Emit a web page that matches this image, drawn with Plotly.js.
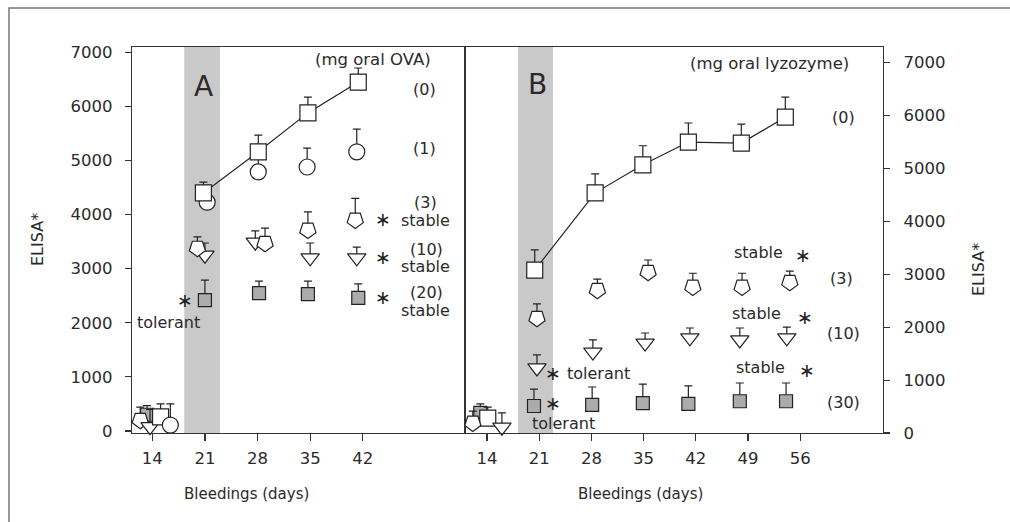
<!DOCTYPE html>
<html>
<head>
<meta charset="utf-8">
<script src="https://cdn.plot.ly/plotly-3.0.1.min.js"></script>
<style>html,body{margin:0;padding:0;background:#fff;}#chart{width:1010px;height:522px;}</style>
</head>
<body>
<div id="chart"></div>
<script>
// ---------- Panel A : mg oral OVA ----------
const tickDaysA = [14, 21, 28, 35, 42];
const ovaDay14X   = [15.1, 16.4, 12.4, 13.7, 13.3];          // (0),(1),(3),(10),(20)
const ovaDay14Y   = [260, 110, 200, 80, 300];
const ovaDay14Err = [240, 390, 240, 320, 170];

const ova0X = [20.8, 28.1, 34.7, 41.4];
const ova0Y = [4400, 5160, 5880, 6450];
const ova0E = [200, 310, 290, 260];

const ova1X = [21.3, 28.1, 34.6, 41.2];
const ova1Y = [4230, 4790, 4880, 5160];
const ova1E = [220, 440, 350, 420];

const ova3X = [20.0, 29.0, 34.7, 41.0];
const ova3Y = [3380, 3470, 3715, 3900];
const ova3E = [210, 280, 335, 400];

const ova10X = [21.0, 27.7, 35.0, 41.2];
const ova10Y = [3250, 3490, 3200, 3200];
const ova10E = [225, 210, 275, 200];

const ova20X = [21.0, 28.2, 34.7, 41.4];
const ova20Y = [2420, 2550, 2530, 2460];
const ova20E = [370, 220, 240, 260];

// ---------- Panel B : mg oral lyzozyme ----------
const tickDaysB = [14, 21, 28, 35, 42, 49, 56];
const lyzDay14X   = [14.1, 12.1, 16.0, 13.1];                 // (0),(3),(10),(30)
const lyzDay14Y   = [280, 190, 110, 380];
const lyzDay14Err = [210, 225, 270, 170];

const lyz0X = [20.4, 28.5, 34.9, 41.0, 48.1, 54.0];
const lyz0Y = [3080, 4540, 5070, 5500, 5480, 5970];
const lyz0E = [380, 360, 360, 360, 360, 380];

const lyz3X = [20.7, 28.8, 35.6, 41.6, 48.2, 54.6];
const lyz3Y = [2170, 2700, 3040, 2760, 2760, 2850];
const lyz3E = [270, 210, 230, 260, 260, 210];

const lyz10X = [20.7, 28.2, 35.2, 41.2, 47.9, 54.2];
const lyz10Y = [1230, 1530, 1700, 1800, 1760, 1800];
const lyz10E = [245, 230, 190, 185, 225, 200];

const lyz30X = [20.3, 28.1, 34.9, 41.0, 47.9, 54.1];
const lyz30Y = [510, 530, 565, 550, 600, 600];
const lyz30E = [320, 340, 360, 340, 345, 345];

const yTicks = [0, 1000, 2000, 3000, 4000, 5000, 6000, 7000];
const feedingBandA = [18.25, 23.0];
const feedingBandB = [18.16, 22.85];

// ---------- styling ----------
const INK = '#222';
const TXT = '#2a2a2a';
const FONT = 'DejaVu Sans, Arial, sans-serif';
const W = 1010, H = 522;
const px = x => x / W;
const py = y => 1 - y / H;

function errUp(arr) {
  return {type: 'data', symmetric: false, array: arr, arrayminus: arr.map(() => 0),
          color: INK, thickness: 1.2, width: 4};
}
function mk(symbol, size, fill, angle) {
  return {symbol: symbol, size: size, color: fill, angle: angle || 0,
          line: {color: INK, width: 1.2}};
}
function trace(x, y, e, symbol, size, fill, axes, mode, angle) {
  return {x: x, y: y, error_y: errUp(e), mode: mode || 'markers', type: 'scatter',
          marker: mk(symbol, size, fill, angle), line: {color: INK, width: 1.2},
          xaxis: axes[0], yaxis: axes[1], hoverinfo: 'x+y', showlegend: false, cliponaxis: false};
}
const A = ['x', 'y'], B = ['x2', 'y2'];
const GRAY = '#ababab';

function pick(arr, i) { return [arr[i]]; }

const traces = [];
// Panel A day-14 cluster
const symA = [['square', 16, '#fff', 0], ['circle', 16, '#fff', 0], ['pentagon', 17, '#fff', 180], ['triangle-down', 16, '#fff', 0], ['square', 13, GRAY, 0]];
[4, 2, 3, 0, 1].forEach(i => {
  const s = symA[i];
  traces.push(trace(pick(ovaDay14X, i), pick(ovaDay14Y, i), pick(ovaDay14Err, i), s[0], s[1], s[2], A, 'markers', s[3]));
});
traces.push(trace(ova20X, ova20Y, ova20E, 'square', 13, GRAY, A));
traces.push(trace(ova10X, ova10Y, ova10E, 'triangle-down', 16, '#fff', A));
traces.push(trace(ova3X, ova3Y, ova3E, 'pentagon', 17, '#fff', A, 'markers', 180));
traces.push(trace(ova1X, ova1Y, ova1E, 'circle', 16, '#fff', A));
traces.push(trace(ova0X, ova0Y, ova0E, 'square', 16, '#fff', A, 'lines+markers'));

// Panel B day-14 cluster
const symB = [['square', 16, '#fff', 0], ['pentagon', 17, '#fff', 180], ['triangle-down', 16, '#fff', 0], ['square', 13, GRAY, 0]];
[3, 0, 1, 2].forEach(i => {
  const s = symB[i];
  traces.push(trace(pick(lyzDay14X, i), pick(lyzDay14Y, i), pick(lyzDay14Err, i), s[0], s[1], s[2], B, 'markers', s[3]));
});
traces.push(trace(lyz30X, lyz30Y, lyz30E, 'square', 13, GRAY, B));
traces.push(trace(lyz10X, lyz10Y, lyz10E, 'triangle-down', 16, '#fff', B));
traces.push(trace(lyz3X, lyz3Y, lyz3E, 'pentagon', 17, '#fff', B, 'markers', 180));
traces.push(trace(lyz0X, lyz0Y, lyz0E, 'square', 16, '#fff', B, 'lines+markers'));

function ann(text, x, y, size, extra) {
  return Object.assign({text: text, x: px(x), y: py(y), xref: 'paper', yref: 'paper',
    xanchor: 'center', yanchor: 'middle', showarrow: false,
    font: {family: FONT, size: size || 16, color: TXT}}, extra || {});
}
function star(x, y) {
  return ann('\u2217', x, y, 19, {font: {family: FONT, size: 19, color: INK}});
}
const annotations = [
  ann('A', 203, 86, 28),
  ann('(mg oral OVA)', 373, 60, 16.5),
  ann('(0)', 424, 89, 16),
  ann('(1)', 424, 149, 16),
  ann('(3)', 425, 203, 16),
  ann('stable', 425, 220, 16),
  ann('(10)', 426, 249, 16),
  ann('stable', 425, 266, 16),
  ann('(20)', 426, 292, 16),
  ann('stable', 425, 310, 16),
  star(383, 219),
  star(383, 257),
  star(383, 297),
  star(185, 300),
  ann('tolerant', 168, 322, 16),

  ann('B', 537, 84, 28),
  ann('(mg oral lyzozyme)', 769, 63, 16.5),
  ann('(0)', 843, 117, 16),
  ann('stable', 758, 252, 16),
  star(803, 255),
  ann('(3)', 841, 278, 16),
  ann('stable', 756, 313, 16),
  star(805, 317),
  ann('(10)', 843, 333, 16),
  ann('stable', 760, 367, 16),
  star(807, 370),
  ann('(30)', 843, 402, 16),
  star(553, 373),
  ann('tolerant', 598, 373, 16),
  star(553, 403),
  ann('tolerant', 563, 423, 16),

  ann('Bleedings (days)', 246, 494, 15),
  ann('Bleedings (days)', 640, 494, 15),
  ann('ELISA*', 37, 240, 16, {textangle: -90}),
  ann('ELISA*', 978, 270, 16, {textangle: -90})
];

const axisCommon = {showgrid: false, zeroline: false, showline: true, mirror: true,
  linecolor: '#333', linewidth: 1.2, ticks: 'outside', tickcolor: '#333', tickwidth: 1.2,
  tickfont: {family: FONT, size: 16.5, color: TXT}, fixedrange: true};

const yDom = [(H - 433) / H, (H - 47) / H];
const layout = {
  width: W, height: H,
  margin: {l: 0, r: 0, t: 0, b: 0},
  paper_bgcolor: '#fff', plot_bgcolor: 'rgba(0,0,0,0)',
  showlegend: false,
  xaxis: Object.assign({}, axisCommon, {domain: [px(132), px(465)], range: [11.3, 55.6],
    tickvals: tickDaysA, ticklen: 7, anchor: 'y', ticklabelstandoff: 3}),
  yaxis: Object.assign({}, axisCommon, {domain: yDom, range: [-37, 7098],
    tickvals: yTicks, ticklen: 6, anchor: 'x', ticklabelstandoff: 9}),
  xaxis2: Object.assign({}, axisCommon, {domain: [px(465), px(883)], range: [11.05, 67.1],
    tickvals: tickDaysB, ticklen: 7, anchor: 'y2', ticklabelstandoff: 3}),
  yaxis2: Object.assign({}, axisCommon, {domain: yDom, range: [0, 7297],
    tickvals: yTicks, ticklen: 6, anchor: 'x2', side: 'right', ticklabelstandoff: 10}),
  shapes: [
    {type: 'rect', xref: 'x', yref: 'paper', x0: feedingBandA[0], x1: feedingBandA[1],
     y0: yDom[0], y1: yDom[1], fillcolor: '#c9c9c9', line: {width: 0}, layer: 'below'},
    {type: 'rect', xref: 'x2', yref: 'paper', x0: feedingBandB[0], x1: feedingBandB[1],
     y0: yDom[0], y1: yDom[1], fillcolor: '#c9c9c9', line: {width: 0}, layer: 'below'},
    {type: 'rect', xref: 'paper', yref: 'paper', x0: px(9), x1: 1.05, y0: -0.05, y1: py(8),
     line: {color: '#777', width: 1.5}, fillcolor: 'rgba(0,0,0,0)', layer: 'below'}
  ],
  annotations: annotations
};

Plotly.newPlot('chart', traces, layout, {displayModeBar: false, staticPlot: true});
</script>
</body>
</html>
